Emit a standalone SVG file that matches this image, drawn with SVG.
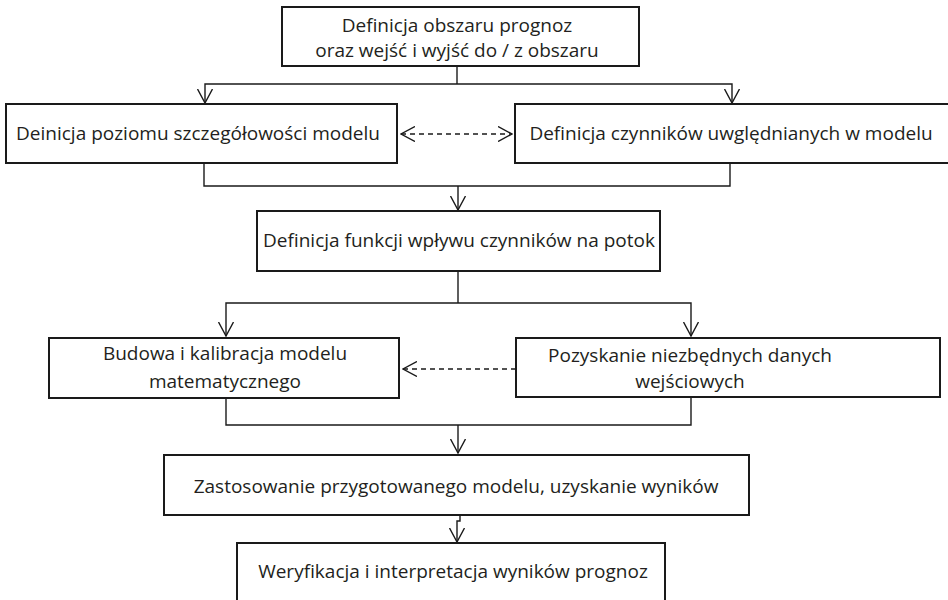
<svg xmlns="http://www.w3.org/2000/svg" width="948" height="600" viewBox="0 0 948 600">
<style>
.box{fill:#fff;stroke:#1a1a1a;stroke-width:2}
.t{font-family:"Open Sans","Noto Sans",sans-serif;font-size:19px;fill:#231f20;text-anchor:middle}
.c{fill:none;stroke:#1a1a1a;stroke-width:1.4}
.d{fill:none;stroke:#1a1a1a;stroke-width:1.4;stroke-dasharray:5 4}
</style>
<defs>
<marker id="ah" markerUnits="userSpaceOnUse" viewBox="0 0 15 16" refX="14" refY="8" markerWidth="15" markerHeight="16" orient="auto-start-reverse">
<path d="M0,0.5 L14,8 L0,15.5" fill="none" stroke="#1a1a1a" stroke-width="1.4" stroke-dasharray="none"/>
</marker>
</defs>
<rect width="948" height="600" fill="#fff"/>
<g id="connectors">
<path class="c" d="M457,66 V84"/>
<path class="c" d="M205,103 V84 H732 V103" marker-start="url(#ah)" marker-end="url(#ah)"/>
<path class="d" d="M401,134 H512" marker-start="url(#ah)" marker-end="url(#ah)"/>
<path class="c" d="M204,163 V186 H730 V163"/>
<path class="c" d="M458,186 V210" marker-end="url(#ah)"/>
<path class="c" d="M458,271 V303"/>
<path class="c" d="M226,336 V303 H691 V336" marker-start="url(#ah)" marker-end="url(#ah)"/>
<path class="d" d="M516,369 H403" marker-end="url(#ah)"/>
<path class="c" d="M226,398 V425 H691 V397"/>
<path class="c" d="M458,425 V453" marker-end="url(#ah)"/>
<path class="c" d="M460,515 V521 H457 V542" marker-end="url(#ah)"/>
</g>
<g id="n1"><rect class="box" x="282" y="7" width="357" height="59"/>
<text class="t" x="457" y="32">Definicja obszaru prognoz</text>
<text class="t" x="457" y="57">oraz wejść i wyjść do / z obszaru</text></g>
<g id="n2"><rect class="box" x="6" y="104" width="391" height="59"/>
<text class="t" x="198" y="140">Deinicja poziomu szczegółowości modelu</text></g>
<g id="n3"><rect class="box" x="515" y="104" width="436" height="59"/>
<text class="t" x="731" y="140">Definicja czynników uwględnianych w modelu</text></g>
<g id="n4"><rect class="box" x="257" y="211" width="403" height="60"/>
<text class="t" x="459" y="247">Definicja funkcji wpływu czynników na potok</text></g>
<g id="n5"><rect class="box" x="49" y="338" width="350" height="60"/>
<text class="t" x="225" y="360">Budowa i kalibracja modelu</text>
<text class="t" x="225" y="388">matematycznego</text></g>
<g id="n6"><rect class="box" x="516" y="338" width="424" height="59"/>
<text class="t" x="690" y="362">Pozyskanie niezbędnych danych</text>
<text class="t" x="690" y="388">wejściowych</text></g>
<g id="n7"><rect class="box" x="164" y="455" width="585" height="60"/>
<text class="t" x="456" y="493">Zastosowanie przygotowanego modelu, uzyskanie wyników</text></g>
<g id="n8"><rect class="box" x="237" y="543" width="428" height="64"/>
<text class="t" x="453" y="578">Weryfikacja i interpretacja wyników prognoz</text></g>
</svg>
